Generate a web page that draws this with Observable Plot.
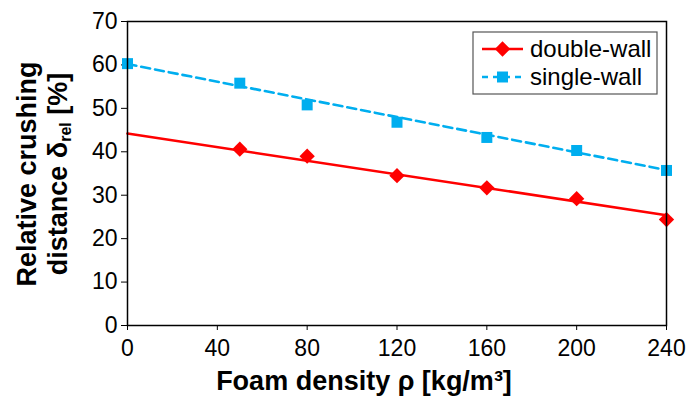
<!DOCTYPE html>
<html>
<head>
<meta charset="utf-8">
<script src="https://cdn.jsdelivr.net/npm/d3@7"></script>
<script src="https://cdn.jsdelivr.net/npm/@observablehq/plot@0.6"></script>
<style>
  html, body { margin: 0; padding: 0; background: #fff; }
  svg { display: block; }
</style>
</head>
<body>
<div id="chart"></div>
<script>
// ---- data ----
const xTicks = [0, 40, 80, 120, 160, 200, 240];
const yTicks = [0, 10, 20, 30, 40, 50, 60, 70];

const doubleX = [50, 80, 120, 160, 200, 240];
const doubleY = [40.6, 39.0, 34.5, 31.7, 29.2, 24.4];

const singleX = [0, 50, 80, 120, 160, 200, 240];
const singleY = [60.3, 55.8, 50.8, 46.8, 43.3, 40.3, 35.7];

// linear trend lines
const trendX = [0, 240];
const doubleTrend = [44.2, 25.4];
const singleTrend = [60.2, 35.8];

const seriesNames = ["double-wall", "single-wall"];
const red = "#FF0000";
const blue = "#00AEEF";

const dbl = doubleX.map((x, i) => ({x, y: doubleY[i]}));
const sgl = singleX.map((x, i) => ({x, y: singleY[i]}));
const dblFit = trendX.map((x, i) => ({x, y: doubleTrend[i]}));
const sglFit = trendX.map((x, i) => ({x, y: singleTrend[i]}));

const font = "'Liberation Sans', Arial, Helvetica, sans-serif";
const sqR = 6.2, diaR = 6.9;

const chart = Plot.plot({
  width: 699,
  height: 399,
  marginLeft: 127,
  marginRight: 33,
  marginTop: 21,
  marginBottom: 74,
  style: {fontFamily: font, fontSize: "23px", color: "#000", background: "#fff", overflow: "visible"},
  x: {domain: [0, 240], label: null},
  y: {domain: [0, 70], label: null},
  marks: [
    Plot.axisX({ticks: xTicks, tickSize: 5, tickPadding: 9, fontSize: 23, label: null, stroke: "#000"}),
    Plot.axisY({ticks: yTicks, tickSize: 6, tickPadding: 4, fontSize: 23, label: null, stroke: "#000"}),
    Plot.line(sglFit, {x: "x", y: "y", stroke: blue, strokeWidth: 2.6, strokeDasharray: "9,5"}),
    Plot.line(dblFit, {x: "x", y: "y", stroke: red, strokeWidth: 2.6}),
    Plot.dot(sgl, {x: "x", y: "y", symbol: "square", r: sqR, fill: blue, stroke: "none"}),
    Plot.dot(dbl, {x: "x", y: "y", symbol: "diamond2", r: diaR, fill: red, stroke: "none"}),
    Plot.frame({stroke: "#000", strokeWidth: 1.5})
  ]
});

document.getElementById("chart").appendChild(chart);

const svg = d3.select(chart);

// x axis title
svg.append("text")
  .attr("x", 364).attr("y", 390)
  .attr("text-anchor", "middle")
  .attr("font-family", font)
  .attr("font-weight", "bold")
  .attr("font-size", 27)
  .attr("fill", "#000")
  .text("Foam density ρ [kg/m³]");

// y axis title (two lines)
const yt = svg.append("g").attr("transform", "translate(36,174) rotate(-90)");
yt.append("text")
  .attr("x", 0).attr("y", 0)
  .attr("text-anchor", "middle")
  .attr("font-family", font).attr("font-weight", "bold").attr("font-size", 27)
  .attr("fill", "#000")
  .text("Relative crushing");
const l2 = yt.append("text")
  .attr("x", 0).attr("y", 31)
  .attr("text-anchor", "middle")
  .attr("font-family", font).attr("font-weight", "bold").attr("font-size", 27)
  .attr("fill", "#000");
l2.append("tspan").text("distance δ");
l2.append("tspan").attr("font-size", 16).attr("dy", 4).text("rel");
l2.append("tspan").attr("dy", -4).text(" [%]");

// legend
const lg = svg.append("g");
lg.append("rect")
  .attr("x", 473).attr("y", 32).attr("width", 184).attr("height", 62)
  .attr("fill", "#fff").attr("stroke", "#555").attr("stroke-width", 1.2);
const rows = [
  {name: seriesNames[0], color: red, dash: null, sym: d3.symbolDiamond2, size: Math.PI * diaR * diaR, y: 49},
  {name: seriesNames[1], color: blue, dash: "6,5", sym: d3.symbolSquare, size: Math.PI * sqR * sqR, y: 77}
];
rows.forEach(r => {
  lg.append("line")
    .attr("x1", 482).attr("x2", 523).attr("y1", r.y).attr("y2", r.y)
    .attr("stroke", r.color).attr("stroke-width", 2.6)
    .attr("stroke-dasharray", r.dash);
  lg.append("path")
    .attr("d", d3.symbol(r.sym, r.size)())
    .attr("transform", `translate(502.5,${r.y})`)
    .attr("fill", r.color);
  lg.append("text")
    .attr("x", 530).attr("y", r.y + 8)
    .attr("text-anchor", "start")
    .attr("font-family", font).attr("font-size", 24)
    .attr("fill", "#000")
    .text(r.name);
});
</script>
</body>
</html>
